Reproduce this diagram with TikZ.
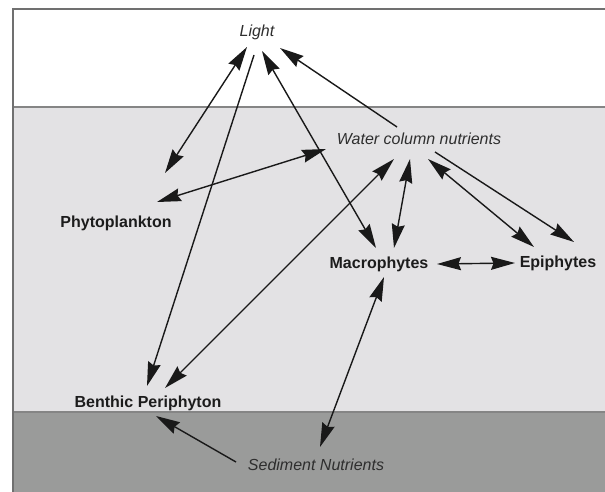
\documentclass[tikz,border=0pt]{standalone}
\usepackage{fontspec}
\setmainfont{Liberation Sans}
\usetikzlibrary{arrows.meta}
\definecolor{cWater}{RGB}{227,226,228}
\definecolor{cSediment}{RGB}{154,155,154}
\definecolor{cFrame}{RGB}{112,112,112}
\definecolor{cText}{RGB}{28,28,28}
\tikzset{
	organism/.style={font=\fontsize{16}{19}\selectfont\bfseries, text=cText, inner sep=0pt},
	resource/.style={font=\fontsize{16}{19}\selectfont\itshape, text=cText!92, inner sep=0pt},
	link/.style={{Stealth[length=24pt, width=13pt, inset=2.5pt]}-{Stealth[length=24pt, width=13pt, inset=2.5pt]}, line width=1.4pt, draw=black!90},
	flow/.style={-{Stealth[length=24pt, width=13pt, inset=2.5pt]}, line width=1.4pt, draw=black!90},
	% layer boundary
	surface/.style={line width=1.3pt, draw=cFrame!85},
}
\begin{document}
\begin{tikzpicture}[x=1pt, y=-1pt]
	\useasboundingbox (0,0) rectangle (605,492);
	% layers
	\fill[white] (0,0) rectangle (605,492);
	\fill[cWater] (13,107) rectangle (605,412);
	\fill[cSediment] (13,412) rectangle (605,492);
	\draw[surface] (13,107) -- (605,107);
	\draw[surface] (13,412) -- (605,412);
	\draw[line width=2pt, draw=cFrame] (13,492) -- (13,9) -- (605,9);

	% labels
	\node[resource] (light) at (257,32) {Light};
	\node[resource] (water) at (419,139) {Water column nutrients};
	\node[resource] (sed) at (316,465) {Sediment Nutrients};
	\node[organism] (phyto) at (116,223) {Phytoplankton};
	\node[organism] (macro) at (379,264) {Macrophytes};
	\node[organism] (epi) at (558,263) {Epiphytes};
	\node[organism] (benthic) at (148,403) {Benthic Periphyton};

	% interactions
	\draw[link] ([shift={(-10,15)}]light.center) -- ([shift={(49,-50)}]phyto.center);
	\draw[flow] ([shift={(-3,23)}]light.center) -- ([shift={(-1,-17)}]benthic.center);
	\draw[link] ([shift={(5,19)}]light.center) -- ([shift={(-3,-16)}]macro.center);
	\draw[flow] ([shift={(-22,-12)}]water.center) -- ([shift={(23,16)}]light.center);
	\draw[link] ([shift={(-93,10)}]water.center) -- ([shift={(41,-21)}]phyto.center);
	\draw[link] ([shift={(-25,20)}]water.center) -- ([shift={(17,-15)}]benthic.center);
	\draw[link] ([shift={(-9,20)}]water.center) -- ([shift={(15,-16)}]macro.center);
	\draw[link] ([shift={(9,20)}]water.center) -- ([shift={(-24,-16)}]epi.center);
	\draw[flow] ([shift={(16,13)}]water.center) -- ([shift={(16,-21)}]epi.center);
	\draw[link] ([shift={(58,0)}]macro.center) -- ([shift={(-43,0)}]epi.center);
	\draw[link] ([shift={(5,13)}]macro.center) -- ([shift={(4,-18)}]sed.center);
	\draw[flow] ([shift={(-80,-3)}]sed.center) -- ([shift={(8,13)}]benthic.center);
\end{tikzpicture}
\end{document}
